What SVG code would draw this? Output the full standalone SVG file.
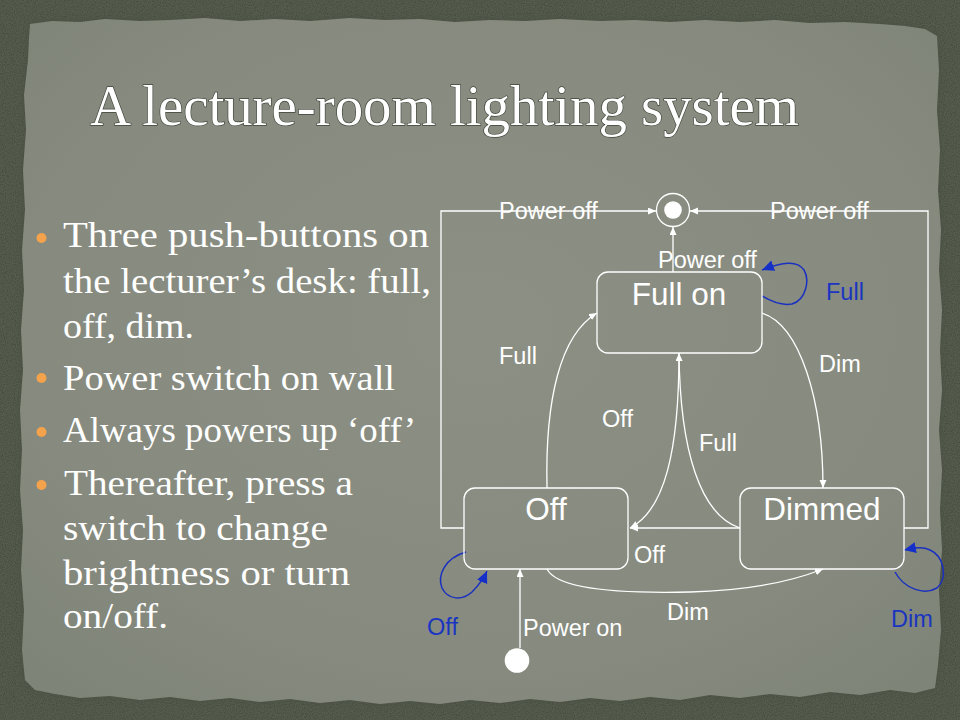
<svg xmlns="http://www.w3.org/2000/svg" width="960" height="720" viewBox="0 0 960 720">
  <defs>
    <radialGradient id="panelGrad" cx="0.5" cy="0.45" r="0.7">
      <stop offset="0" stop-color="#8c9084"/>
      <stop offset="0.7" stop-color="#878b7f"/>
      <stop offset="1" stop-color="#7f8478"/>
    </radialGradient>
    <filter id="noise" x="0" y="0" width="100%" height="100%">
      <feTurbulence type="fractalNoise" baseFrequency="0.9" numOctaves="2" seed="3"/>
      <feColorMatrix type="matrix" values="0 0 0 0 0  0 0 0 0 0  0 0 0 0 0  0 0 0 -1.2 0.75"/>
    </filter>
    <filter id="soft" x="-5%" y="-5%" width="110%" height="110%">
      <feGaussianBlur stdDeviation="3"/>
    </filter>
    <marker id="aw" markerUnits="userSpaceOnUse" markerWidth="10" markerHeight="8" refX="8" refY="3.5" orient="auto">
      <path d="M0,0 L8,3.5 L0,7 z" fill="#ffffff"/>
    </marker>
    <marker id="ab" markerUnits="userSpaceOnUse" markerWidth="14" markerHeight="12" refX="12" refY="5.5" orient="auto">
      <path d="M0,0 L12,5.5 L0,11 z" fill="#1530c8"/>
    </marker>
    <style>
      .lbl { font-family: "Liberation Sans", Arial, sans-serif; font-size: 23.5px; fill: #ffffff; }
      .blu { font-family: "Liberation Sans", Arial, sans-serif; font-size: 23.5px; fill: #1a35c0; }
      .st { font-family: "Liberation Sans", Arial, sans-serif; font-size: 31.5px; fill: #ffffff; text-anchor: middle; }
      .box { fill: none; stroke: #ffffff; stroke-width: 1.3; }
      .ln { fill: none; stroke: #ffffff; stroke-width: 1.3; marker-end: url(#aw); }
      .bl { fill: none; stroke: #1a30c0; stroke-width: 1.5; marker-end: url(#ab); }
      .bul { font-family: "Liberation Serif", "Times New Roman", serif; font-size: 36px; fill: #ffffff; }
      .dot { fill: #f4a24c; }
    </style>
  </defs>

  <!-- background -->
  <rect x="0" y="0" width="960" height="720" fill="#565d4e"/>
  <rect x="0" y="0" width="960" height="720" filter="url(#noise)" opacity="0.35"/>
  <polygon fill="#4a5043" filter="url(#soft)" points="30,24 52,21 80,22 105,19 140,21 170,20 205,18 240,21 275,19 310,21 350,18 385,20 420,19 455,22 490,20 525,21 560,19 600,21 635,20 670,22 705,20 740,22 775,20 810,23 845,22 880,24 905,26 925,29 937,36 939,70 937,110 940,150 938,190 941,230 939,270 942,310 940,350 942,390 939,430 942,470 940,510 942,550 939,590 941,630 938,665 935,688 915,693 890,690 860,695 830,692 800,697 770,694 740,698 710,695 680,700 650,697 620,701 590,698 560,702 530,699 500,703 470,700 440,704 410,701 380,704 350,700 320,703 290,699 260,702 230,698 200,701 170,697 140,700 110,696 80,698 55,694 35,690 25,680 22,650 24,610 21,570 23,530 20,490 22,450 20,410 23,370 21,330 24,290 22,250 25,210 23,170 26,130 24,95 28,60 29,38"/>
  <polygon fill="url(#panelGrad)" points="30,24 52,21 80,22 105,19 140,21 170,20 205,18 240,21 275,19 310,21 350,18 385,20 420,19 455,22 490,20 525,21 560,19 600,21 635,20 670,22 705,20 740,22 775,20 810,23 845,22 880,24 905,26 925,29 937,36 939,70 937,110 940,150 938,190 941,230 939,270 942,310 940,350 942,390 939,430 942,470 940,510 942,550 939,590 941,630 938,665 935,688 915,693 890,690 860,695 830,692 800,697 770,694 740,698 710,695 680,700 650,697 620,701 590,698 560,702 530,699 500,703 470,700 440,704 410,701 380,704 350,700 320,703 290,699 260,702 230,698 200,701 170,697 140,700 110,696 80,698 55,694 35,690 25,680 22,650 24,610 21,570 23,530 20,490 22,450 20,410 23,370 21,330 24,290 22,250 25,210 23,170 26,130 24,95 28,60 29,38"/>

  <!-- title -->
  <text x="90" y="125" font-family="Liberation Serif, 'Times New Roman', serif" font-size="56" fill="#ffffff" stroke="#3e4338" stroke-width="1.3" paint-order="stroke" textLength="709" lengthAdjust="spacingAndGlyphs">A lecture-room lighting system</text>

  <!-- bullets -->
  <g id="bullets">
    <circle class="dot" cx="41.5" cy="238" r="5"/>
    <circle class="dot" cx="41.5" cy="378" r="5"/>
    <circle class="dot" cx="41.5" cy="432" r="5"/>
    <circle class="dot" cx="41.5" cy="485" r="5"/>
    <text class="bul" x="63" y="247" textLength="366" lengthAdjust="spacingAndGlyphs">Three push-buttons on</text>
    <text class="bul" x="63" y="293" textLength="368" lengthAdjust="spacingAndGlyphs">the lecturer’s desk: full,</text>
    <text class="bul" x="63" y="338" textLength="131" lengthAdjust="spacingAndGlyphs">off, dim.</text>
    <text class="bul" x="63" y="390" textLength="332" lengthAdjust="spacingAndGlyphs">Power switch on wall</text>
    <text class="bul" x="63" y="442" textLength="353" lengthAdjust="spacingAndGlyphs">Always powers up ‘off’</text>
    <text class="bul" x="64" y="495" textLength="289" lengthAdjust="spacingAndGlyphs">Thereafter, press a</text>
    <text class="bul" x="63" y="540" textLength="265" lengthAdjust="spacingAndGlyphs">switch to change</text>
    <text class="bul" x="63" y="585" textLength="287" lengthAdjust="spacingAndGlyphs">brightness or turn</text>
    <text class="bul" x="63" y="628" textLength="105" lengthAdjust="spacingAndGlyphs">on/off.</text>
  </g>

  <!-- connectors -->
  <g id="connectors">
    <path class="ln" d="M464,528 H441 V211 H656"/>
    <path class="ln" d="M904,528 H928 V211 H690"/>
    <path class="ln" d="M673,272 V227"/>
    <path class="ln" d="M547,488 C545,400 560,335 597,313"/>
    <path class="ln" d="M762,313 C800,325 823,400 823,488"/>
    <path class="ln" d="M679,353 C679,450 665,510 630,528"/>
    <path class="ln" d="M740,528 C700,515 680,450 679,353"/>
    <path class="ln" d="M740,528 H630"/>
    <path class="ln" d="M547,569 Q560,595 690,592 Q770,590 823,569"/>
    <path class="ln" d="M520,648 V569"/>
    <path class="bl" d="M762,296 C772,302 782,306 792,304 C806,300 810,280 804,270 C797,260 783,262 762,270"/>
    <path class="bl" d="M466,552 C445,558 437,575 442,588 C448,600 462,601 472,592 C478,586 483,580 487,571"/>
    <path class="bl" d="M895,572 C905,590 925,595 937,588 C948,578 944,556 930,550 C922,546 914,548 904,550"/>
    <text class="lbl" x="499" y="219">Power off</text>
    <text class="lbl" x="770" y="219">Power off</text>
    <text class="lbl" x="658" y="268">Power off</text>
    <text class="blu" x="826" y="300">Full</text>
    <text class="lbl" x="499" y="364">Full</text>
    <text class="lbl" x="819" y="372">Dim</text>
    <text class="lbl" x="602" y="427">Off</text>
    <text class="lbl" x="699" y="451">Full</text>
    <text class="lbl" x="634" y="563">Off</text>
    <text class="lbl" x="667" y="620">Dim</text>
    <text class="lbl" x="523" y="636">Power on</text>
    <text class="blu" x="427" y="635">Off</text>
    <text class="blu" x="891" y="627">Dim</text>
  </g>

  <!-- nodes -->
  <g id="final">
    <circle cx="673" cy="210" r="16.5" fill="none" stroke="#ffffff" stroke-width="1.3"/>
    <circle cx="673" cy="210" r="8.8" fill="#ffffff"/>
  </g>
  <g id="initial">
    <circle cx="517" cy="660.5" r="12.3" fill="#ffffff"/>
  </g>
  <g id="fullon">
    <rect class="box" x="597" y="272" width="165" height="81" rx="11"/>
    <text class="st" x="679" y="305">Full on</text>
  </g>
  <g id="off">
    <rect class="box" x="464" y="488" width="164" height="81" rx="11"/>
    <text class="st" x="546" y="520">Off</text>
  </g>
  <g id="dimmed">
    <rect class="box" x="740" y="488" width="164" height="81" rx="11"/>
    <text class="st" x="822" y="520">Dimmed</text>
  </g>
</svg>
